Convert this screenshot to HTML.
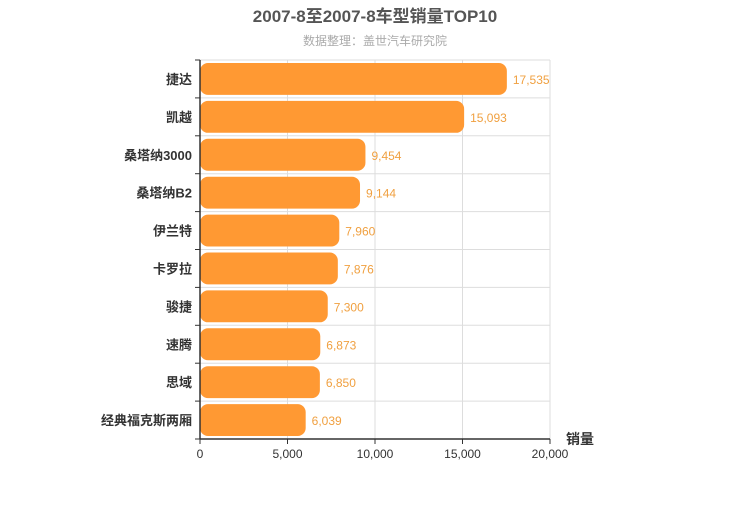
<!DOCTYPE html>
<html><head><meta charset="utf-8"><style>
body{margin:0;background:#fff;font-family:"Liberation Sans","Noto Sans CJK SC",sans-serif}
</style></head><body>
<svg width="750" height="500" style="font-family:'Liberation Sans','Noto Sans CJK SC',sans-serif">
<text x="375" y="22" text-anchor="middle" font-size="17" font-weight="bold" fill="#555">2007-8至2007-8车型销量TOP10</text>
<text x="375" y="45" text-anchor="middle" font-size="12" fill="#aaa">数据整理：盖世汽车研究院</text>
<g id="grid"></g><g id="bars"></g><g id="axes"></g>
<text x="580" y="444" text-anchor="middle" font-size="14" font-weight="bold" fill="#333">销量</text>
</svg>
<script>
const categories=["捷达","凯越","桑塔纳3000","桑塔纳B2","伊兰特","卡罗拉","骏捷","速腾","思域","经典福克斯两厢"];
const values=[17535,15093,9454,9144,7960,7876,7300,6873,6850,6039];
const ticks=[0,5000,10000,15000,20000];
const NS="http://www.w3.org/2000/svg";
const X0=200,X1=550,Y0=60,Y1=439,MAX=20000;
const rowH=(Y1-Y0)/categories.length;
const xs=v=>X0+(v/MAX)*(X1-X0);
function mk(t,a,p){const e=document.createElementNS(NS,t);for(const k in a)e.setAttribute(k,a[k]);p.appendChild(e);return e;}
const g=document.getElementById('grid'),b=document.getElementById('bars'),ax=document.getElementById('axes');
ticks.forEach(t=>{
 const l=mk('line',{x1:xs(t),x2:xs(t),y1:Y0,y2:Y1,stroke:'#ddd'},g);
 
 
 const tk=mk('line',{x1:xs(t),x2:xs(t),y1:Y1,y2:Y1+5,stroke:'#333'},ax);
 
 
 const tx=mk('text',{x:xs(t),y:Y1+19,'text-anchor':'middle','font-size':12,fill:'#333'},ax);
 tx.textContent=t.toLocaleString('en-US');
 
 
});
for(let i=0;i<=categories.length;i++){
 const y=Y0+i*rowH;
 const l=mk('line',{x1:X0,x2:X1,y1:y,y2:y,stroke:'#ddd'},g);
 
 
 const tk=mk('line',{x1:X0-5,x2:X0,y1:y,y2:y,stroke:'#333'},ax);
 
 
}
categories.forEach((c,i)=>{
 const y=Y0+i*rowH;
 const r=mk('rect',{x:X0,y:y+3,width:xs(values[i])-X0,height:rowH-6,rx:8,fill:'#ff9933'},b);
 
 
 const v=mk('text',{x:xs(values[i])+6,y:y+rowH/2+5,'font-size':12,fill:'#f0a040'},b);
 v.textContent=values[i].toLocaleString('en-US');
 
 
 const lb=mk('text',{x:X0-8,y:y+rowH/2+5,'text-anchor':'end','font-size':13,'font-weight':'bold',fill:'#333'},ax);
 lb.textContent=c;
 
 
});
const ya=mk('line',{x1:X0,x2:X0,y1:Y0,y2:Y1,stroke:'#333','stroke-width':1.5},ax);


const xa=mk('line',{x1:X0,x2:X1,y1:Y1,y2:Y1,stroke:'#333','stroke-width':1.5},ax);


</script>
</body></html>
